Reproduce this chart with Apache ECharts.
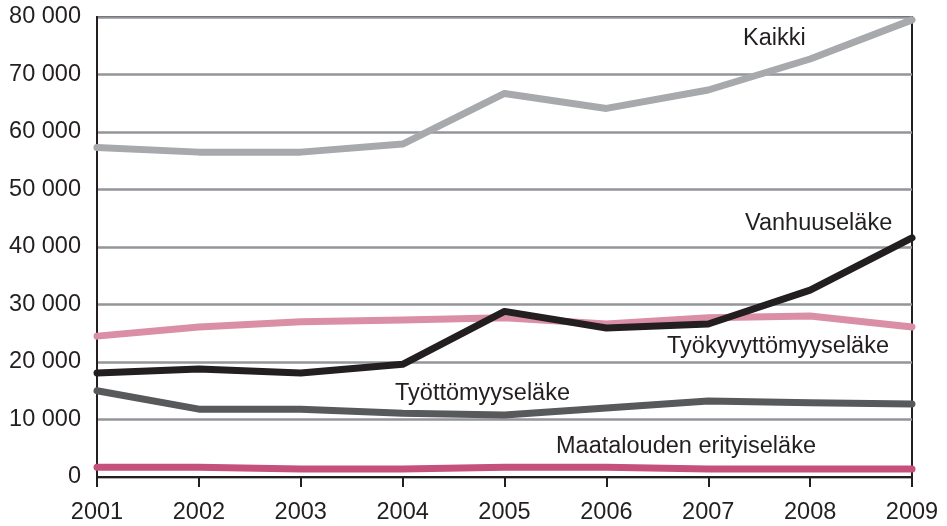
<!DOCTYPE html>
<html><head><meta charset="utf-8">
<script src="https://cdn.jsdelivr.net/npm/echarts@6/dist/echarts.min.js"></script>
<style>html,body{margin:0;padding:0;background:#fff}#c{width:947px;height:526px}</style>
</head><body><div id="c"></div>
<script>
const years = ['2001','2002','2003','2004','2005','2006','2007','2008','2009'];
const kaikki = [57300, 56500, 56500, 57900, 66700, 64100, 67300, 72700, 79500];
const vanhuus = [18100, 18800, 18100, 19600, 28800, 25900, 26600, 32500, 41600];
const tyokyvyttomyys = [24500, 26100, 27000, 27300, 27700, 26600, 27700, 28000, 26100];
const tyottomyys = [15000, 11800, 11800, 11100, 10800, 12000, 13200, 12900, 12700];
const maatalous = [1700, 1700, 1400, 1400, 1700, 1700, 1400, 1400, 1400];
const seriesNames = ['Kaikki','Vanhuuseläke','Työkyvyttömyyseläke','Työttömyyseläke','Maatalouden erityiseläke'];
const yMin = 0, yMax = 80000, yStep = 10000;

const font = '"Liberation Sans", Arial, sans-serif';
const chart = echarts.init(document.getElementById('c'), null, {renderer:'canvas'});
function s(name, data, color){
  return {name, type:'line', data, symbol:'none', smooth:false,
    lineStyle:{color, width:7, cap:'round', join:'round'}, itemStyle:{color}, z:3};
}
function lbl(text, left, top){
  return {type:'text', left, top, style:{text, font:'23.5px '+font, fill:'#231f20'}, z:10};
}
chart.setOption({
  animation:false,
  grid:{left:97, right:35, top:17, bottom:49, show:true, borderColor:'#231f20', borderWidth:2, backgroundColor:'transparent'},
  xAxis:{type:'category', data:years, boundaryGap:false,
    axisLine:{lineStyle:{color:'#231f20', width:2}},
    axisTick:{show:true, length:10, lineStyle:{color:'#231f20', width:2}, alignWithLabel:true},
    axisLabel:{color:'#231f20', fontSize:23.5, fontFamily:font, margin:24},
    splitLine:{show:false}},
  yAxis:{type:'value', min:yMin, max:yMax, interval:yStep,
    axisLine:{show:true, lineStyle:{color:'#231f20', width:2}},
    axisTick:{show:false},
    axisLabel:{color:'#231f20', fontSize:23.5, fontFamily:font, margin:16,
      formatter:v=>v===0?'0':String(v).replace(/\B(?=(\d{3})+(?!\d))/g,' ')},
    splitLine:{show:true, lineStyle:{color:'#939598', width:2.5}}},
  series:[
    s(seriesNames[0], kaikki, '#a7a9ac'),
    s(seriesNames[2], tyokyvyttomyys, '#da8fa7'),
    s(seriesNames[3], tyottomyys, '#58595b'),
    s(seriesNames[1], vanhuus, '#231f20'),
    s(seriesNames[4], maatalous, '#c5507b')
  ],
  graphic:[
    lbl(seriesNames[0], 743, 27),
    lbl(seriesNames[1], 745, 212),
    lbl(seriesNames[2], 667, 335),
    lbl(seriesNames[3], 395, 382),
    lbl(seriesNames[4], 556, 435)
  ]
});
</script></body></html>
